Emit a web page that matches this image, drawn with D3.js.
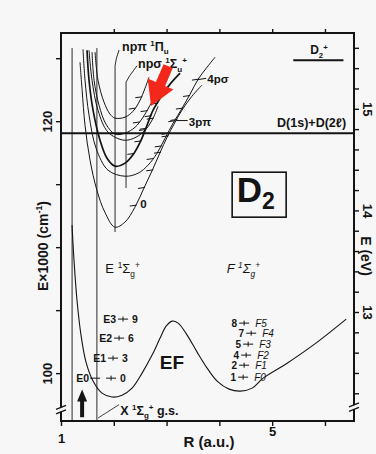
<!DOCTYPE html>
<html><head><meta charset="utf-8">
<script src="https://cdn.jsdelivr.net/npm/d3@7"></script>
<style>
body{margin:0;background:#f7f7f7;}
svg{display:block;font-family:"Liberation Sans",Arial,Helvetica,sans-serif;}
</style></head><body>
<svg id="c" width="376" height="454"></svg>
<script>
// ---------------- data ----------------
const xTicks = [1, 2, 3, 4, 5, 6];
const xTickLabels = {1: "1", 5: "5"};
const yTicks = [100, 105, 110, 115, 120, 125];
const yTickLabels = {100: "100", 120: "120"};
const eVTicks = [12.2,12.4,12.6,12.8,13,13.2,13.4,13.6,13.8,14,14.2,14.4,14.6,14.8,15,15.2,15.4,15.6];
const eVTickLabels = {13: "13", 14: "14", 15: "15"};
const kcmPerEV = 8.06554;           // 1000 cm-1 per eV
const dissociationLimit = 119.05;   // D(1s)+D(2l), x1000 cm-1
const ionLimit = 124.84;            // D2+
const ionLimitR = [5.40, 6.35];

// EF 1Σg+ double-well potential  [R (a.u.), E (x1000 cm-1)]
const curveEF = [[1.209,111.75],[1.246,108.97],[1.303,105.79],[1.379,103.02],[1.474,100.87],[1.607,99.37],
  [1.777,98.41],[1.967,98.10],[2.156,98.25],[2.346,98.81],[2.536,100.0],[2.725,101.43],[2.877,102.78],
  [2.991,103.73],[3.104,104.13],[3.218,103.97],[3.389,103.02],[3.578,101.67],[3.768,100.40],[3.957,99.37],
  [4.185,98.73],[4.393,98.57],[4.621,98.81],[4.829,99.60],[5.284,100.79],[5.777,102.22],[6.403,104.29]];

// Rydberg np states
const curveA = [[1.36,124.68],[1.40,122.46],[1.455,119.68],[1.55,116.90],[1.68,114.52],[1.83,112.78],[2.02,111.59],
  [2.21,111.98],[2.40,113.17],[2.57,114.68],[2.73,116.11],[2.88,117.54],[3.01,118.73],[3.14,119.76],[3.29,120.87],
  [3.48,121.98],[3.67,122.86]];
const curveC = [[1.417,125.71],[1.455,123.25],[1.531,120.48],[1.664,117.86],[1.891,116.11],[2.213,115.63],[2.46,115.87],
  [2.649,116.51],[2.82,117.46],[2.972,118.65],[3.123,119.84],[3.294,121.03],[3.445,122.14],[3.597,123.33],[3.768,124.29],[3.919,125.08]];
const curveB = [[1.493,125.63],[1.531,123.25],[1.607,120.87],[1.739,118.49],[1.872,117.06],[2.024,116.43],[2.213,116.67],
  [2.384,117.46],[2.517,118.49],[2.630,119.68],[2.744,120.87],[2.915,122.06],[3.066,122.94],[3.256,123.81]];
const curveD = [[1.588,125.48],[1.626,123.25],[1.720,121.27],[1.853,119.76],[2.024,118.97],[2.213,119.05],[2.403,119.52],
  [2.555,120.32],[2.687,121.27],[2.801,122.30]];
const curveE = [[1.531,125.63],[1.588,123.25],[1.701,120.87],[1.891,119.13],[2.194,118.49],[2.422,118.73],[2.611,119.37],
  [2.744,120.24],[2.839,121.19]];
const curveF = [[1.645,125.48],[1.701,123.25],[1.815,121.51],[1.929,120.56],[2.024,120.24],[2.213,120.32],[2.365,120.79],
  [2.498,121.67],[2.592,122.62],[2.668,123.49]];

// vibrational level energies on the right walls
const levelsA = [113.3, 114.7, 116.1, 117.5, 118.8, 120.1];
const levelsC = [117.0, 118.0, 119.0, 120.0, 121.0, 122.0, 123.3];
const levelsB = [117.4, 118.4, 119.4, 120.4, 121.4];
const levelsD = [119.9, 120.8];
const levelsE = [119.3, 120.2];
const levelsF = [121.0, 121.9];

// Franck-Condon vertical lines (R)
const fcLines = [1.21, 1.68];
const npPiLine = [[2.10,125.65],[2.05,125.0],[2.024,124.4],[2.024,111.2]];
const npSigmaLine = [[2.44,124.40],[2.30,123.6],[2.232,123.1],[2.232,114.7]];

// E and F vibrational levels
const eLevels = [{lab:"E0", num:"0", E:99.60, R:1.948},{lab:"E1", num:"3", E:101.19, R:1.986},
  {lab:"E2", num:"6", E:102.78, R:2.10},{lab:"E3", num:"9", E:104.29, R:2.175}];
const fLevels = [{lab:"F0", num:"1", E:99.68, R:4.450},{lab:"F1", num:"2", E:100.63, R:4.469},
  {lab:"F2", num:"4", E:101.43, R:4.507},{lab:"F3", num:"5", E:102.30, R:4.545},
  {lab:"F4", num:"7", E:103.17, R:4.602},{lab:"F5", num:"8", E:103.97, R:4.469}];

// ---------------- drawing ----------------
const svg = d3.select("#c");
const x = d3.scaleLinear().domain([1, 6.55]).range([61, 354]);
const y = d3.scaleLinear().domain([96.2, 127.0]).range([421, 33]);
const yEV = d3.scaleLinear().domain([96.2 / kcmPerEV, 127.0 / kcmPerEV]).range([421, 33]);
const INK = "#141414";
const line = d3.line().x(d => x(d[0])).y(d => y(d[1])).curve(d3.curveCatmullRom.alpha(0.5));
const straight = d3.line().x(d => x(d[0])).y(d => y(d[1]));

function rich(g, px, py, parts, size, o = {}) {
  const t = g.append("text").attr("x", px).attr("y", py).attr("font-size", size)
    .attr("fill", INK).attr("font-weight", o.weight || "bold")
    .attr("font-style", o.style || "normal").attr("text-anchor", o.anchor || "start");
  if (o.transform) t.attr("transform", o.transform);
  let off = 0;
  parts.forEach(p => {
    const [s, k] = Array.isArray(p) ? p : [p, "n"];
    const target = k === "sup" ? -size * 0.40 : k === "sub" ? size * 0.30 : 0;
    const fs = k === "n" ? size : size * 0.64;
    t.append("tspan").attr("dy", target - off).attr("font-size", fs).text(s);
    off = target;
  });
  return t;
}

// vertical FC lines
fcLines.forEach(r => svg.append("path").attr("d", straight([[r,125.8],[r,96.2]]))
  .attr("stroke", INK).attr("stroke-width", 0.9).attr("fill", "none"));

// leader lines
[npPiLine, npSigmaLine].forEach(l => svg.append("path").attr("d", straight(l))
  .attr("stroke", INK).attr("stroke-width", 0.9).attr("fill", "none"));

// Rydberg curves
const upper = [
  {pts: curveA, lv: levelsA, w: 1},
  {pts: curveC, lv: levelsC, w: 1},
  {pts: curveB, lv: levelsB, w: 1.7},
  {pts: curveD, lv: levelsD, w: 1},
  {pts: curveE, lv: levelsE, w: 1},
  {pts: curveF, lv: levelsF, w: 1}
];
function wallR(pts, E) {
  let im = 0;
  pts.forEach((p, i) => { if (p[1] < pts[im][1]) im = i; });
  for (let i = im; i < pts.length - 1; i++) {
    const a = pts[i], b = pts[i + 1];
    if ((a[1] - E) * (b[1] - E) <= 0) return a[0] + (E - a[1]) / (b[1] - a[1]) * (b[0] - a[0]);
  }
  return null;
}
upper.forEach(c => {
  svg.append("path").attr("d", line(c.pts)).attr("fill", "none").attr("stroke", INK).attr("stroke-width", c.w);
  c.lv.forEach(E => {
    const r = wallR(c.pts, E);
    if (r == null) return;
    svg.append("line").attr("x1", x(r) - 6).attr("x2", x(r) + 1).attr("y1", y(E) + 0.5).attr("y2", y(E) - 0.5)
      .attr("stroke", INK).attr("stroke-width", 1);
  });
});

// EF curve
svg.append("path").attr("d", line(curveEF)).attr("fill", "none").attr("stroke", INK).attr("stroke-width", 1.1);

// dissociation limit & ion limit
svg.append("line").attr("x1", x(1)).attr("x2", x(6.55)).attr("y1", y(dissociationLimit)).attr("y2", y(dissociationLimit))
  .attr("stroke", INK).attr("stroke-width", 2);
svg.append("line").attr("x1", x(ionLimitR[0])).attr("x2", x(ionLimitR[1])).attr("y1", y(ionLimit)).attr("y2", y(ionLimit))
  .attr("stroke", INK).attr("stroke-width", 2);

// frame
svg.append("rect").attr("x", x(1)).attr("y", y(127)).attr("width", x(6.55) - x(1)).attr("height", y(96.2) - y(127))
  .attr("fill", "none").attr("stroke", INK).attr("stroke-width", 2);

// axes
const gB = svg.append("g").attr("transform", `translate(0,${y(96.2)})`)
  .call(d3.axisBottom(x).tickValues(xTicks).tickSize(5).tickFormat(d => xTickLabels[d] || ""));
const gT = svg.append("g").attr("transform", `translate(0,${y(127)})`)
  .call(d3.axisTop(x).tickValues(xTicks.slice(1)).tickSize(4).tickFormat(""));
const gL = svg.append("g").attr("transform", `translate(${x(1)},0)`)
  .call(d3.axisLeft(y).tickValues(yTicks).tickSize(5).tickFormat(d => yTickLabels[d] || ""));
const gR = svg.append("g").attr("transform", `translate(${x(6.55)},0)`)
  .call(d3.axisRight(yEV).tickValues(eVTicks).tickSize(5).tickFormat(d => eVTickLabels[Math.round(d * 10) / 10] || ""));
[gB, gT, gL, gR].forEach(g => {
  g.select(".domain").remove();
  g.selectAll(".tick line").attr("stroke", INK).attr("stroke-width", 1.4);
  g.selectAll("text").attr("fill", INK).attr("font-size", 13).attr("font-weight", "bold")
    .attr("font-family", '"Liberation Sans",Arial,sans-serif');
});
gB.selectAll(".tick text").attr("y", 13).attr("dy", "0.71em").each(function(d) { if (d === 5) d3.select(this).attr("y", 6); });
gL.selectAll(".tick text").attr("x", null).attr("dy", null).attr("text-anchor", "middle")
  .attr("transform", "translate(-9,0) rotate(-90)");
gR.selectAll(".tick text").attr("x", null).attr("dy", null).attr("text-anchor", "middle")
  .attr("transform", "translate(9,0) rotate(90)");

// axis breaks
function brk(px, py) {
  const g = svg.append("g");
  g.append("rect").attr("x", px - 4).attr("y", py - 2).attr("width", 8).attr("height", 4).attr("fill", "#f7f7f7");
  [-2.2, 2.2].forEach(o => g.append("line").attr("x1", px - 5).attr("x2", px + 5)
    .attr("y1", py + o + 2).attr("y2", py + o - 2).attr("stroke", INK).attr("stroke-width", 1.3));
}
brk(x(1), y(97.1));
brk(x(6.55), y(97.3));

// axis titles
rich(svg, 0, 0, ["E×1000 (cm", ["-1", "sup"], ")"], 14, {anchor: "middle", transform: "translate(48,246) rotate(-90)"});
rich(svg, 0, 0, ["E (eV)"], 14, {anchor: "middle", transform: "translate(361,256) rotate(90)"});
rich(svg, 209, 447, ["R (a.u.)"], 15, {anchor: "middle"});

// labels
rich(svg, x(2.156), y(125.6), ["npπ ", ["1", "sup"], "Π", ["u", "sub"]], 12.5);
rich(svg, x(2.46), y(124.22), ["npσ ", ["1", "sup"], "Σ", ["u", "sub"], ["+", "sup"]], 12.5);
rich(svg, x(3.77), y(123.05), ["4pσ"], 11.5);
rich(svg, x(3.42), y(119.62), ["3pπ"], 11.5);
svg.append("line").attr("x1", x(wallR(curveC, 123.3))).attr("y1", y(123.3)).attr("x2", x(3.75)).attr("y2", y(123.4))
  .attr("stroke", INK).attr("stroke-width", 1);
svg.append("line").attr("x1", x(wallR(curveA, 120.05))).attr("y1", y(120.05)).attr("x2", x(3.40)).attr("y2", y(120.05))
  .attr("stroke", INK).attr("stroke-width", 1);
rich(svg, x(2.50), y(113.1), ["0"], 11.5);
rich(svg, x(5.72), y(125.3), ["D", ["2", "sub"], ["+", "sup"]], 12);
rich(svg, x(6.40), y(119.55), ["D(1s)+D(2", ["ℓ", "n"], ")"], 12.5, {anchor: "end"});

// D2 box
svg.append("rect").attr("x", x(4.242)).attr("y", y(115.95)).attr("width", x(5.265) - x(4.242)).attr("height", y(112.38) - y(115.95))
  .attr("fill", "none").attr("stroke", INK).attr("stroke-width", 1.6);
const d2 = svg.append("text").attr("x", x(4.33)).attr("y", y(113.55)).attr("fill", INK).attr("font-weight", "bold");
d2.append("tspan").attr("font-size", 35).text("D");
d2.append("tspan").attr("font-size", 23).attr("dy", 7).text("2");

rich(svg, x(1.84), y(107.94), ["E ", ["1", "sup"], "Σ", ["g", "sub"], ["+", "sup"]], 13, {weight: "normal"});
rich(svg, x(4.14), y(107.94), ["F ", ["1", "sup"], "Σ", ["g", "sub"], ["+", "sup"]], 13, {weight: "normal", style: "italic"});
rich(svg, x(3.10), y(100.35), ["EF"], 19, {anchor: "middle"});
rich(svg, x(2.12), y(96.7), ["X ", ["1", "sup"], "Σ", ["g", "sub"], ["+", "sup"], " g.s."], 12.5);

// level markers
function cross(R, E) {
  svg.append("line").attr("x1", x(R) - 5).attr("x2", x(R) + 5).attr("y1", y(E)).attr("y2", y(E)).attr("stroke", INK).attr("stroke-width", 1);
  svg.append("line").attr("x1", x(R)).attr("x2", x(R)).attr("y1", y(E) - 2.5).attr("y2", y(E) + 2.5).attr("stroke", INK).attr("stroke-width", 1);
}
eLevels.forEach((l, i) => {
  cross(l.R, l.E);
  const endX = i === 0 ? x(1.53) : x(l.R) - 7;
  svg.append("text").attr("x", endX).attr("y", y(l.E)).attr("dy", "0.36em").attr("text-anchor", "end")
    .attr("font-size", 10.5).attr("font-weight", "bold").attr("fill", INK).text(l.lab);
  svg.append("text").attr("x", x(l.R) + 9).attr("y", y(l.E)).attr("dy", "0.36em")
    .attr("font-size", 10.5).attr("font-weight", "bold").attr("fill", INK).text(l.num);
});
svg.append("line").attr("x1", x(1.55)).attr("x2", x(1.74)).attr("y1", y(99.6)).attr("y2", y(99.6)).attr("stroke", INK).attr("stroke-width", 1);
fLevels.forEach(l => {
  cross(l.R, l.E);
  svg.append("text").attr("x", x(l.R) - 7).attr("y", y(l.E)).attr("dy", "0.36em").attr("text-anchor", "end")
    .attr("font-size", 10).attr("font-weight", "bold").attr("fill", INK).text(l.num);
  svg.append("text").attr("x", x(l.R) + 11).attr("y", y(l.E)).attr("dy", "0.36em")
    .attr("font-size", 10).attr("font-style", "italic").attr("fill", INK).text(l.lab);
});

// X pointer
svg.append("path").attr("d", straight([[2.10,97.5],[1.70,96.43]])).attr("stroke", INK).attr("stroke-width", 0.8).attr("fill", "none");

// arrows
function arrow(t, h, sw, hw, hl, col) {
  const x0 = x(t[0]), y0 = y(t[1]), x1 = x(h[0]), y1 = y(h[1]);
  const L = Math.hypot(x1 - x0, y1 - y0), ux = (x1 - x0) / L, uy = (y1 - y0) / L, nx = -uy, ny = ux;
  const bx = x1 - ux * hl, by = y1 - uy * hl;
  const pts = [[x0 + nx * sw / 2, y0 + ny * sw / 2], [bx + nx * sw / 2, by + ny * sw / 2], [bx + nx * hw / 2, by + ny * hw / 2],
    [x1, y1], [bx - nx * hw / 2, by - ny * hw / 2], [bx - nx * sw / 2, by - ny * sw / 2], [x0 - nx * sw / 2, y0 - ny * sw / 2]];
  svg.append("polygon").attr("points", pts.map(p => p.join(",")).join(" ")).attr("fill", col);
}
arrow([3.03, 124.37], [2.706, 121.2], 10, 28, 24, "#f4281a");
arrow([1.40, 96.5], [1.40, 98.7], 4, 10, 12, INK);
</script>
</body></html>
